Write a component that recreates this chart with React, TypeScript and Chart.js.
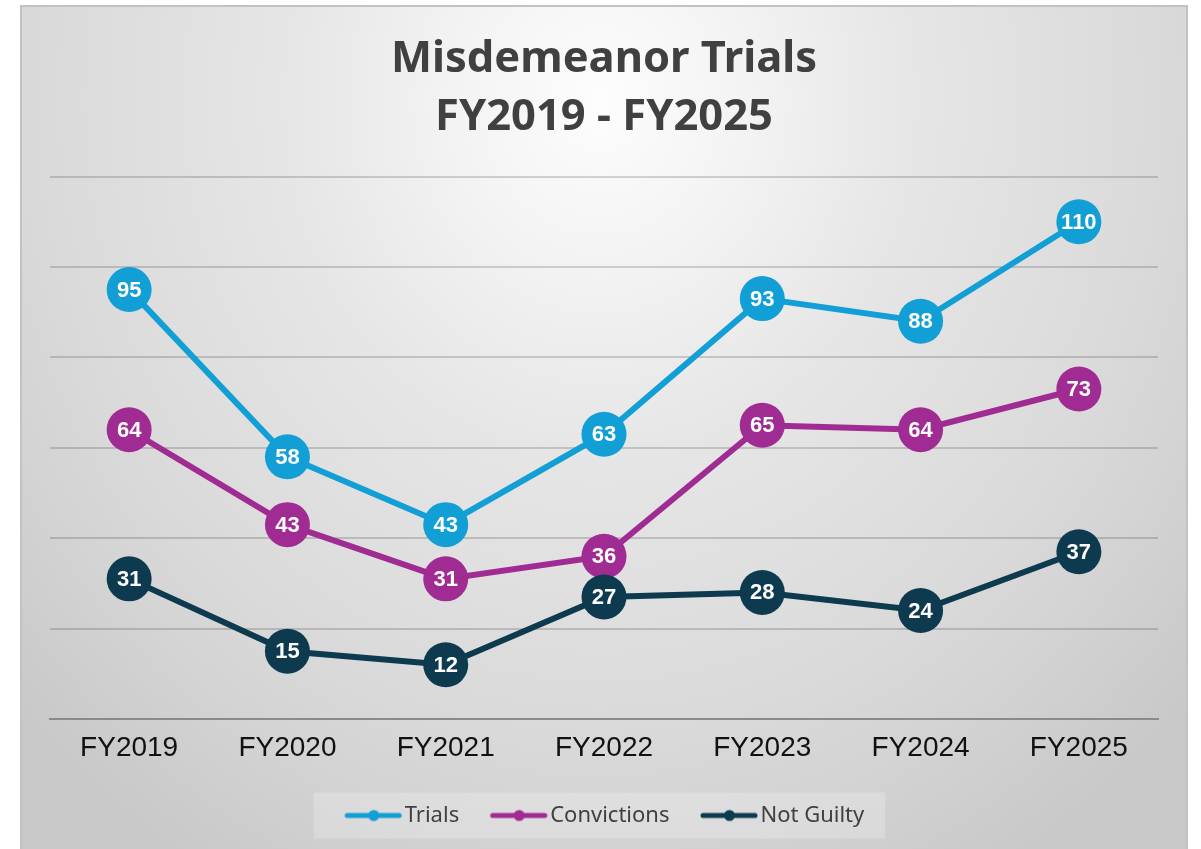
import React, { useEffect, useRef } from "react";
import { Chart, registerables } from "chart.js";

Chart.register(...registerables);

const categories = ["FY2019", "FY2020", "FY2021", "FY2022", "FY2023", "FY2024", "FY2025"];
const trials = [95, 58, 43, 63, 93, 88, 110];
const convictions = [64, 43, 31, 36, 65, 64, 73];
const notGuilty = [31, 15, 12, 27, 28, 24, 37];
const seriesNames = ["Trials", "Convictions", "Not Guilty"];
const seriesColors = ["#119fd6", "#a02b93", "#0e3a4f"];
const titleLines = ["Misdemeanor Trials", "FY2019 - FY2025"];

function makeMarker(color: string): HTMLCanvasElement {
  const c = document.createElement("canvas");
  c.width = 67;
  c.height = 14;
  const g = c.getContext("2d")!;
  g.strokeStyle = color;
  g.lineWidth = 5;
  g.lineCap = "round";
  g.beginPath();
  g.moveTo(12, 7);
  g.lineTo(64, 7);
  g.stroke();
  g.fillStyle = color;
  g.beginPath();
  g.arc(38.5, 7, 5.5, 0, Math.PI * 2);
  g.fill();
  return c;
}

const labelPlugin = {
  id: "valueLabels",
  afterDatasetDraw(chart: any, args: any) {
    const ctx = chart.ctx;
    const meta = chart.getDatasetMeta(args.index);
    const ds = chart.data.datasets[args.index];
    ctx.save();
    ctx.fillStyle = "#ffffff";
    ctx.font = "bold 22px 'Liberation Sans', Arial, sans-serif";
    ctx.textAlign = "center";
    ctx.textBaseline = "middle";
    meta.data.forEach((el: any, i: number) => {
      ctx.fillText(String(ds.data[i]), el.x, el.y + 1);
    });
    ctx.restore();
  },
};

const legendBgPlugin = {
  id: "legendBg",
  beforeDraw(chart: any) {
    const lg = chart.legend;
    if (!lg || !lg.legendHitBoxes || !lg.legendHitBoxes.length) return;
    const hb = lg.legendHitBoxes;
    const minX = Math.min(...hb.map((h: any) => h.left));
    const maxX = Math.max(...hb.map((h: any) => h.left + h.width));
    const cy = hb[0].top + hb[0].height / 2;
    const ctx = chart.ctx;
    ctx.save();
    ctx.fillStyle = "rgba(255,255,255,0.22)";
    ctx.fillRect(minX - 30, cy - 23, maxX - minX + 51, 46);
    ctx.restore();
  },
};

export default function App() {
  const ref = useRef<HTMLCanvasElement | null>(null);

  useEffect(() => {
    const canvas = ref.current!;
    const dataSets = [trials, convictions, notGuilty];
    const markers = seriesColors.map(makeMarker);
    const chart = new Chart(canvas, {
      type: "line",
      data: {
        labels: categories,
        datasets: dataSets.map((d, i) => ({
          label: seriesNames[i],
          data: d,
          borderColor: seriesColors[i],
          backgroundColor: seriesColors[i],
          pointBackgroundColor: seriesColors[i],
          pointBorderWidth: 0,
          pointRadius: 22.5,
          pointHoverRadius: 22.5,
          borderWidth: 6,
          tension: 0,
          order: 3 - i,
          pointStyle: "circle",
        })),
      },
      options: {
        responsive: false,
        animation: false,
        events: [],
        layout: { padding: { left: 30, right: 30, top: 0, bottom: 12.5 } },
        scales: {
          x: {
            offset: true,
            grid: { display: false, drawTicks: false },
            border: { display: true, color: "#8a8a8a", width: 2 },
            ticks: {
              color: "#111111",
              padding: 12,
              font: { family: "'Liberation Sans', Arial, sans-serif", size: 28 },
            },
            afterFit: (scale: any) => {
              scale.height = 55.5;
            },
          },
          y: {
            min: 0,
            max: 120,
            ticks: { display: false, stepSize: 20 },
            grid: { color: "rgba(0,0,0,0.16)", lineWidth: 2, drawTicks: false },
            border: { display: false },
            afterFit: (scale: any) => {
              scale.width = 0;
            },
          },
        },
        plugins: {
          tooltip: { enabled: false },
          title: {
            display: true,
            text: titleLines,
            color: "#404040",
            font: { family: "'Noto Sans', sans-serif", size: 43.5, weight: "bold", lineHeight: 1.34 },
            padding: { top: 25, bottom: 30 },
          },
          legend: {
            display: true,
            position: "bottom",
            labels: {
              usePointStyle: true,
              pointStyleWidth: 50,
              padding: 30,
              color: "#404040",
              font: { family: "'Noto Sans', sans-serif", size: 22 },
              generateLabels: (ch: any) =>
                ch.data.datasets.map((ds: any, i: number) => ({
                  text: ds.label,
                  fillStyle: seriesColors[i],
                  strokeStyle: seriesColors[i],
                  lineWidth: 0,
                  pointStyle: markers[i],
                  datasetIndex: i,
                  hidden: false,
                  fontColor: "#404040",
                })),
            },
          },
        },
      } as any,
      plugins: [labelPlugin, legendBgPlugin],
    });
    return () => chart.destroy();
  }, []);

  return (
    <div
      style={{
        position: "absolute",
        left: 20,
        top: 5,
        width: 1168,
        height: 844,
        background:
          "radial-gradient(ellipse 800px 900px at 580px 95px, #fdfdfd 0%, #f2f2f2 20%, #e6e6e6 39%, #dadada 69%, #d3d3d3 82%, #c8c8c8 100%)",
        boxShadow: "inset 2px 2px 0 #c2c2c2, inset -2px 0 0 #c2c2c2",
      }}
    >
      <canvas ref={ref} width={1168} height={844} style={{ width: 1168, height: 844, display: "block" }} />
    </div>
  );
}
